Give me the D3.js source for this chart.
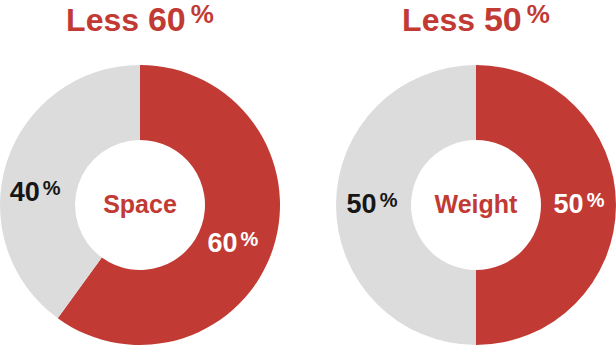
<!DOCTYPE html>
<html>
<head>
<meta charset="utf-8">
<script src="https://cdn.jsdelivr.net/npm/d3@7"></script>
<style>
  html, body { margin: 0; padding: 0; background: #fff; }
  svg { display: block; font-family: "Liberation Sans", Arial, Helvetica, sans-serif; font-weight: bold; }
</style>
</head>
<body>
<svg id="chart" width="616" height="346"></svg>
<script>
// ---- data ----
const categories = ["Space", "Weight"];
const reductionValues = [60, 50];   // "Less xx%"
const usedShares = [60, 50];        // red slice (%)
const savedShares = [40, 50];       // grey slice (%)

// ---- layout / style ----
const W = 616, H = 346;
const outerR = 140, innerR = 65, labelR = 103;
const cy = 205;
const RED = "#c23a34", GREY = "#dcdcdc";

const svg = d3.select("#chart");
const x = d3.scalePoint().domain(categories).range([140, 476]);

const pie = d3.pie().sort(null).value(d => d.value);
const arc = d3.arc().innerRadius(innerR).outerRadius(outerR);
const labelArc = d3.arc().innerRadius(labelR).outerRadius(labelR);

// manual label nudges per chart (designer placement)
const nudges = [[[-5, 7], [-7, 20]], [[0, 0], [-1, 0]]];

categories.forEach((cat, i) => {
  const g = svg.append("g").attr("transform", `translate(${x(cat)},${cy})`);
  const slices = pie([
    { key: "used", value: usedShares[i], color: RED, text: "#fff" },
    { key: "saved", value: savedShares[i], color: GREY, text: "#161616" }
  ]);

  g.selectAll("path").data(slices).join("path")
    .attr("d", arc)
    .attr("fill", d => d.data.color);

  // slice labels
  const lab = g.selectAll("text.lab").data(slices).join("text")
    .attr("class", "lab")
    .attr("text-anchor", "middle")
    .attr("fill", d => d.data.text)
    .attr("x", (d, j) => labelArc.centroid(d)[0] + nudges[i][j][0])
    .attr("y", (d, j) => labelArc.centroid(d)[1] + 8 + nudges[i][j][1]);
  lab.append("tspan").attr("font-size", 27).text(d => d.data.value);
  lab.append("tspan").attr("font-size", 20).attr("dx", 3).attr("dy", -6).text("%");

  // centre label
  g.append("text")
    .attr("text-anchor", "middle")
    .attr("y", 8)
    .attr("font-size", 25)
    .attr("fill", RED)
    .text(cat);

  // title
  const t = svg.append("text")
    .attr("x", x(cat))
    .attr("y", 31)
    .attr("text-anchor", "middle")
    .attr("fill", RED);
  t.append("tspan").attr("font-size", 32).text("Less ");
  t.append("tspan").attr("font-size", 34).text(reductionValues[i]);
  t.append("tspan").attr("font-size", 26).attr("dx", 5).attr("dy", -8).text("%");
});
</script>
</body>
</html>
